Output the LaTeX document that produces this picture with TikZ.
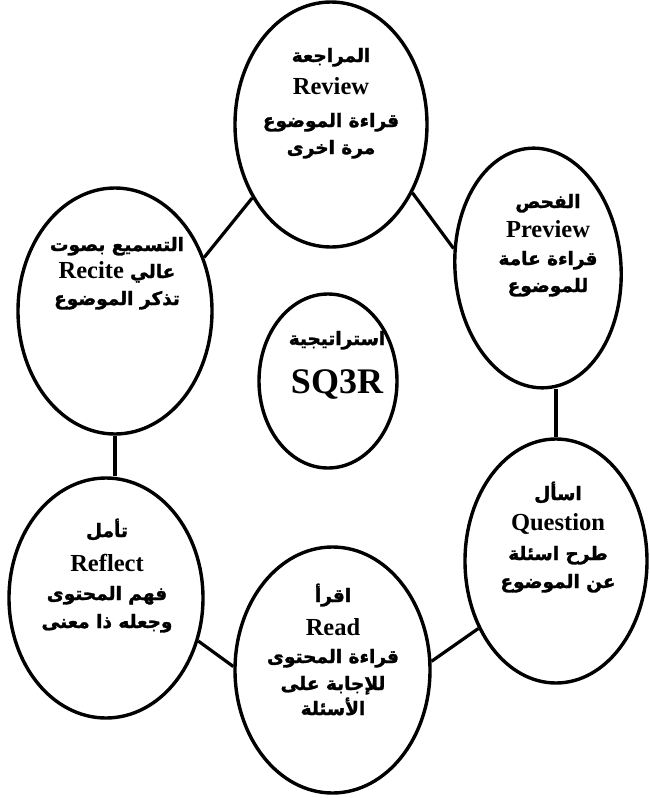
\documentclass[tikz,border=0pt]{standalone}
\usepackage{fontspec}
\setmainfont{Liberation Serif}
\newfontfamily\arabicfont[Script=Arabic,BoldFeatures={FakeBold=1.6}]{DejaVu Sans}
\TeXXeTstate=1
\usetikzlibrary{shapes.geometric}
\begin{document}
\begin{tikzpicture}[x=1pt,y=-1pt,
  oval/.style={draw, ellipse, line width=3.4pt, inner sep=0pt},
  conn/.style={line width=3.2pt},
  lat/.style={font=\fontsize{24.5}{28}\selectfont\bfseries, anchor=base, inner sep=0pt},
  arb/.style={font=\fontsize{18.5}{22}\selectfont\arabicfont\bfseries, anchor=base, inner sep=0pt, execute at begin node=\beginR, execute at end node=\endR},
  big/.style={font=\fontsize{36}{40}\selectfont\bfseries, anchor=base, inner sep=0pt}]
\useasboundingbox (0,0) rectangle (649,798);
% ellipses
\node[oval, minimum width=192pt, minimum height=245pt] (rev) at (331,124.5) {};
\node[oval, minimum width=166pt, minimum height=240pt, rotate=4] (prev) at (538,268) {};
\node[oval, minimum width=194pt, minimum height=246pt] (rec) at (115,311) {};
\node[oval, minimum width=138pt, minimum height=174pt] (mid) at (328,381) {};
\node[oval, minimum width=182pt, minimum height=244pt] (que) at (556,561) {};
\node[oval, minimum width=194pt, minimum height=240pt] (ref) at (106,598) {};
\node[oval, minimum width=195pt, minimum height=246pt] (rea) at (332.5,670) {};
% connectors
\draw[conn] (rev.223) -- (rec.31);
\draw[conn] (rev.320) -- (prev.163);
\draw[conn] (que.north) -- (que.north |- prev.south);
\draw[conn] (que.221) -- (rea.5);
\draw[conn] (ref.335) -- (rea.178);
\draw[conn] (rec.south) -- (rec.south |- ref.north);
% Review
\node[arb] (rev1) at (331,62) {المراجعة};
\node[lat] (rev2) at (331,94) {Review};
\node[arb] (rev3) at (331,127) {قراءة الموضوع};
\node[arb] (rev4) at (331,154) {مرة اخرى};
% Preview
\node[arb] (pre1) at (548,208) {الفحص};
\node[lat] (pre2) at (548,237) {Preview};
\node[arb] (pre3) at (548,265) {قراءة عامة};
\node[arb] (pre4) at (548,292) {للموضوع};
% Recite
\node[arb] (rec1) at (117,251) {التسميع بصوت};
\node[lat] (rec2) at (117,278) {\beginR{\arabicfont\fontsize{18.5}{22}\selectfont عالي} \beginL Recite\endL\endR};
\node[arb] (rec3) at (117,305) {تذكر الموضوع};
% centre
\node[arb] (mid1) at (337,345) {استراتيجية};
\node[big] (mid2) at (337,393) {SQ3R};
% Question
\node[arb] (que1) at (558,500) {اسأل};
\node[lat] (que2) at (558,530) {Question};
\node[arb] (que3) at (558,560) {طرح اسئلة};
\node[arb] (que4) at (558,588) {عن الموضوع};
% Reflect
\node[arb] (ref1) at (107,537) {تأمل};
\node[lat] (ref2) at (107,571) {Reflect};
\node[arb] (ref3) at (107,600) {فهم المحتوى};
\node[arb] (ref4) at (107,628) {وجعله ذا معنى};
% Read
\node[arb] (rea1) at (333,602) {اقرأ};
\node[lat] (rea2) at (333,635) {Read};
\node[arb] (rea3) at (333,663) {قراءة المحتوى};
\node[arb] (rea4) at (333,690) {للإجابة على};
\node[arb] (rea5) at (333,715) {الأسئلة};
\end{tikzpicture}
\end{document}
